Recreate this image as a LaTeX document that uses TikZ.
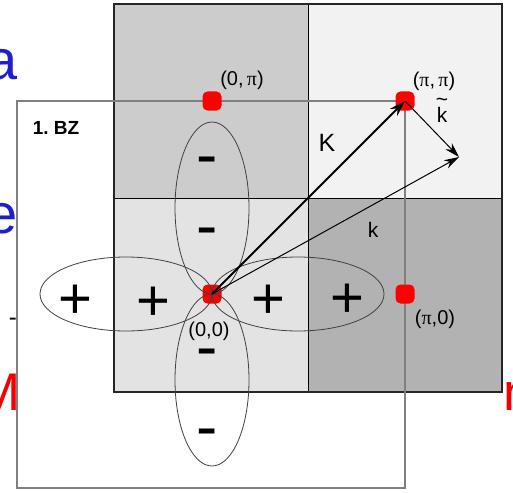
\documentclass[tikz,border=0pt]{standalone}
\usepackage{fontspec}
\newfontfamily\lab{Liberation Sans}
\newfontfamily\sym{Liberation Serif}
\usetikzlibrary{arrows.meta}
\definecolor{slideblue}{RGB}{30,30,205}
\definecolor{slidered}{RGB}{245,0,0}
\definecolor{qTL}{gray}{0.80}
\definecolor{qTR}{gray}{0.95}
\definecolor{qBL}{gray}{0.89}
\definecolor{qBR}{gray}{0.70}
\newcommand{\piS}{{\sym π}}
\begin{document}
\begin{tikzpicture}[x=1pt,y=-1pt,
  frag/.style={inner sep=0, anchor=base east, font=\lab\fontsize{56}{56}\selectfont},
  quadline/.style={draw=black, line width=0.8pt},
  bzbox/.style={draw=black!50, line width=1.3pt},
  dot/.style={rectangle, rounded corners=5pt, fill=red, minimum size=19pt, inner sep=0},
  orb/.style={draw=black!75, line width=0.8pt},
  plussign/.style={inner sep=0, anchor=base, font=\lab\fontsize{58}{58}\selectfont},
  minussign/.style={inner sep=0, anchor=base, font=\lab\fontsize{64}{64}\selectfont},
  ptlabel/.style={inner sep=0, font=\lab\fontsize{20}{20}\selectfont},
  veclabel/.style={inner sep=0, font=\lab\fontsize{21}{21}\selectfont},
  vec/.style={-{Stealth[length=15pt,width=9pt]}, line width=1pt}]
\useasboundingbox (0,0) rectangle (513,492);
% slide text fragments behind the picture
\node[frag, text=slideblue] (fa) at (18,80) {a};
\node[frag, text=slideblue] (fe) at (18,233) {e};
\node[frag, text=black, font=\lab\fontsize{24}{24}\selectfont] (fm) at (17,325) {-};
\node[frag, text=slidered, font=\lab\fontsize{53}{53}\selectfont] (fM) at (21,410) {M};
\node[frag, anchor=base west, text=slidered, font=\lab\fontsize{53}{53}\selectfont] (fn) at (503,410) {n};
\fill[white] (17,0) rectangle (505,489);
% Brillouin zone quadrants
\fill[qTL] (114,4) rectangle (308,198);
\fill[qTR] (308,4) rectangle (502,198);
\fill[qBL] (114,198) rectangle (308,392);
\fill[qBR] (308,198) rectangle (502,392);
\draw[quadline] (308,4) -- (308,392) (114,198) -- (502,198);
\draw[draw=black!85, line width=1.6pt] (114,4) rectangle (502,392);
% first Brillouin zone
\draw[bzbox] (17,101) rectangle (405,488);
\node[inner sep=0, font=\lab\bfseries\fontsize{19}{19}\selectfont] (bz) at (56,128) {1.~BZ};
% special points
\node[dot] (O) at (212,294) {};
\node[dot] (P0pi) at (212,101) {};
\node[dot] (Ppipi) at (405,101) {};
\node[dot] (Ppi0) at (405,294) {};
\coordinate (Q) at (459,157);
% d-wave lobes
\draw[orb] (126,294) ellipse [x radius=86pt, y radius=37pt];
\draw[orb] (298,294) ellipse [x radius=86pt, y radius=37pt];
\draw[orb] (212,208) ellipse [x radius=37pt, y radius=86pt];
\draw[orb] (212,380) ellipse [x radius=37pt, y radius=86pt];
\node[plussign] (p1) at (75,318) {+};
\node[plussign] (p2) at (153,320) {+};
\node[plussign] (p3) at (268,318) {+};
\node[plussign] (p4) at (347,317) {+};
\node[minussign] (m1) at (207,176) {-};
\node[minussign] (m2) at (207,247) {-};
\node[minussign] (m3) at (207,368) {-};
\node[minussign] (m4) at (207,448) {-};
% vectors
\draw[vec, line width=2pt, -{Stealth[length=16pt,width=10pt]}] (O.center) -- (Ppipi.center);
\draw[vec] (Ppipi.center) -- (Q);
\draw[vec] (O.center) -- (Q);
\node[veclabel, font=\lab\fontsize{25}{25}\selectfont] (lK) at (327,143) {K};
\node[veclabel] (lk) at (373,230) {k};
\node[veclabel, align=center, font=\lab\fontsize{21}{10}\selectfont] (lkt) at (442,110) {\char"7E\\k};
% point labels
\node[ptlabel] (l0pi) at (242,80) {(0,\,\piS)};
\node[ptlabel] (lpipi) at (434,81) {(\piS,\,\piS)};
\node[ptlabel] (l00) at (209,331) {(0,0)};
\node[ptlabel] (lpi0) at (435,319) {(\piS,0)};
\end{tikzpicture}
\end{document}
